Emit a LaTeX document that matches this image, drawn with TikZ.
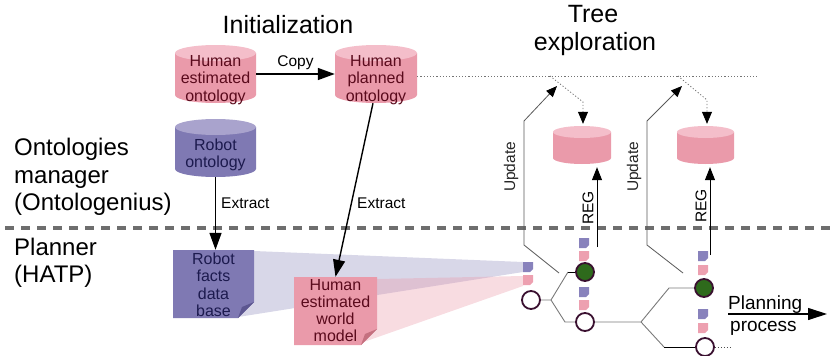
\documentclass[tikz,border=0pt]{standalone}
\usepackage{fontspec}
\setmainfont{Liberation Sans}
\usetikzlibrary{arrows.meta}
\definecolor{pinkbody}{HTML}{EA9AAA}
\definecolor{pinktop}{HTML}{F4BECA}
\definecolor{pinkflap}{HTML}{C4707F}
\definecolor{purpbody}{HTML}{7F79B3}
\definecolor{purptop}{HTML}{A9A3CD}
\definecolor{purpflap}{HTML}{5C5690}
\definecolor{pinktxt}{HTML}{5A0A1C}
\definecolor{purptxt}{HTML}{1C1A4E}
\definecolor{greennode}{HTML}{2E6A1C}
\definecolor{circborder}{HTML}{3A1030}
\definecolor{sqpurp}{HTML}{8882BC}
\definecolor{sqpink}{HTML}{EDA0B0}
\definecolor{sepgray}{HTML}{6E6E6E}
\definecolor{linegray}{HTML}{7A7A7A}

\newcommand\dbcyl[8]{%
  \fill[#6] ({#2-#4/2},{#3-#5/2+#8}) -- ({#2-#4/2},{#3+#5/2-#8})
     arc[start angle=180,end angle=0,x radius={#4/2},y radius=#8]
     -- ({#2+#4/2},{#3-#5/2+#8}) -- cycle;
  \fill[#7] (#2,{#3-#5/2+#8}) ellipse[x radius={#4/2},y radius=#8];
  \node[inner sep=0pt,minimum width=#4,minimum height=#5] (#1) at (#2,#3) {};
}
\newcommand\docnote[7]{%
  \fill[#6] (#2,#3) -- (#4,#3) -- (#4,{#5-16}) -- ({#4-16},#5) -- (#2,#5) -- cycle;
  \fill[#7] (#4,{#5-16}) -- ({#4-16},#5) -- ({#4-12},{#5-11}) -- cycle;
  \node[inner sep=0pt,minimum width={#4-#2},minimum height={#5-#3}] (#1) at ({(#2+#4)/2},{(#3+#5)/2}) {};
}
\newcommand\smallnote[4]{%
  \fill[#4] ({#2-5},{#3-5}) -- ({#2+5},{#3-5}) -- ({#2+5},{#3+2}) -- ({#2+2},{#3+5}) -- ({#2-5},{#3+5}) -- cycle;
  \coordinate (#1) at (#2,#3);
}

\begin{document}
\begin{tikzpicture}[x=1pt,y=-1pt,
  title/.style={font=\fontsize{25}{27}\selectfont, inner sep=0pt},
  side/.style={font=\fontsize{24}{27}\selectfont, inner sep=0pt, anchor=base west},
  boxtext/.style={align=center, inner sep=0pt, font=\fontsize{16}{17.5}\selectfont},
  lbl/.style={font=\fontsize{15.5}{17}\selectfont, inner sep=0pt},
  bigarrow/.style={-{Triangle[length=17pt,width=12pt]}, line width=1.4pt},
  regarrow/.style={-{Triangle[length=13pt,width=10pt]}, line width=1pt},
  updarrow/.style={draw=black!65, line width=0.8pt, -{Triangle[length=11pt,width=9pt,color=black]}},
  dotarrow/.style={draw=black!55, line width=0.8pt, dash pattern=on 1.2pt off 2pt, -{Triangle[length=12pt,width=10pt,color=black]}},
  treeline/.style={draw=linegray, line width=0.9pt},
  tnode/.style={circle, minimum size=18pt, inner sep=0pt, draw=circborder, line width=1.8pt, fill=white},
  gnode/.style={tnode, fill=greennode}
]
\useasboundingbox (0,0) rectangle (831,356);

% separator
\draw[sepgray, line width=4pt, dash pattern=on 9pt off 7pt] (5,228) -- (831,228);

% titles
\node[title, anchor=base] (init) at (288,33) {Initialization};
\node[title, anchor=base] (tree) at (593,23) {Tree};
\node[title, anchor=base] (expl) at (595,50) {exploration};

% side labels
\node[side] (s1) at (14,155) {Ontologies};
\node[side] (s2) at (14,183) {manager};
\node[side] (s3) at (14,210) {(Ontologenius)};
\node[side] (s4) at (14,255) {Planner};
\node[side] (s5) at (14,282) {(HATP)};

% shade bands
\fill[purpbody, opacity=0.3] (254,251) -- (523,262) -- (523,272) -- (238,317) -- cycle;
\fill[pinkbody, opacity=0.35] (377,279) -- (523,276) -- (523,286) -- (358,344) -- cycle;

% cylinders
\dbcyl{heo}{215.5}{74}{81}{58}{pinkbody}{pinktop}{8}
\node[boxtext, text=pinktxt] (heot) at (215.5,80) {Human\\estimated\\ontology};
\dbcyl{hpo}{376}{74}{82}{58}{pinkbody}{pinktop}{8}
\node[boxtext, text=pinktxt] (hpot) at (376,80) {Human\\planned\\ontology};
\dbcyl{ro}{215.5}{148}{81}{58}{purpbody}{purptop}{8}
\node[boxtext, text=purptxt] (rot) at (215.5,155) {Robot\\ontology};
\dbcyl{cy1}{582}{145}{58}{38}{pinkbody}{pinktop}{6}
\dbcyl{cy2}{705.5}{145}{57}{38}{pinkbody}{pinktop}{6}

% documents
\docnote{rfdb}{173}{250}{254}{318}{purpbody}{purpflap}
\node[boxtext, text=purptxt] (rfdbt) at (213.5,285) {Robot\\facts\\data\\base};
\docnote{hewm}{294}{277}{377}{345}{pinkbody}{pinkflap}
\node[boxtext, text=pinktxt, font=\fontsize{16}{17}\selectfont] (hewmt) at (335.5,311) {Human\\estimated\\world\\model};

% main arrows
\draw[bigarrow] (heo.east) -- (hpo.west) node[lbl, midway, above=4pt] (copy) {Copy};
\draw[bigarrow] (ro.south) -- (ro.south |- rfdb.north);
\node[lbl, anchor=base west] (ex1) at (221,208) {Extract};
\draw[bigarrow] ([xshift=-3pt]hpo.south) -- (hewm.north);
\node[lbl, anchor=base west] (ex2) at (357,208) {Extract};

% dotted line
\coordinate (dotend) at (757,76);
\draw[black!55, line width=0.8pt, dash pattern=on 1.2pt off 2pt] (dotend -| hpo.east) -- (dotend);

% small notes
\smallnote{n0p}{528}{267}{sqpurp}
\smallnote{n0k}{528}{280}{sqpink}
\smallnote{n1p}{584}{243}{sqpurp}
\smallnote{n1k}{584}{256}{sqpink}
\smallnote{n2p}{584}{292}{sqpurp}
\smallnote{n2k}{584}{305}{sqpink}
\smallnote{n3p}{703}{256}{sqpurp}
\smallnote{n3k}{703}{270}{sqpink}
\smallnote{n4p}{703}{314}{sqpurp}
\smallnote{n4k}{703}{328}{sqpink}

% tree
\node[tnode] (r0) at (531,300) {};
\node[gnode] (g1) at (585,272) {};
\node[tnode] (c1) at (585,322) {};
\node[gnode] (g2) at (704,288) {};
\node[tnode] (c2) at (705,347) {};
\coordinate (b1) at (551,300);
\coordinate (b1u) at (568,272);
\coordinate (b1d) at (565,322);
\coordinate (b2) at (641,322);
\coordinate (b2u) at (669,288);
\coordinate (b2d) at (664,347);
\draw[treeline] (r0) -- (b1) -- (b1u);
\draw[black, line width=0.9pt] (b1u) -- (g1);
\draw[treeline] (b1) -- (b1d) -- (c1);
\draw[treeline] (c1) -- (b2) -- (b2u) -- (g2);
\draw[treeline] (b2) -- (b2d);
\draw[black, line width=0.9pt] (b2d) -- (c2);
\draw[black!70, line width=0.9pt, dash pattern=on 1pt off 2pt] (c2.east) -- ++(16,0);

% update arrows
\coordinate (u1a) at (559,273);
\coordinate (u1b) at (524,245);
\coordinate (u1c) at (524,121);
\coordinate (u1d) at (557,86);
\draw[updarrow] (u1a) -- (u1b) -- (u1c) -- (u1d);
\node[lbl, rotate=90, text=black!85] (up1) at (511,167) {Update};
\coordinate (u2a) at (683,273);
\coordinate (u2b) at (647,245);
\coordinate (u2c) at (647,121);
\coordinate (u2d) at (682,86);
\draw[updarrow] (u2a) -- (u2b) -- (u2c) -- (u2d);
\node[lbl, rotate=90, text=black!85] (up2) at (634,167) {Update};

% dotted arrows into cylinders
\coordinate (d1a) at (550,76);
\coordinate (d1b) at (583,102);
\draw[dotarrow, shorten >=2pt] (d1a) -- (d1b) -- (d1b |- cy1.north);
\coordinate (d2a) at (678,76);
\coordinate (d2b) at (707,100);
\draw[dotarrow, shorten >=2pt] (d2a) -- (d2b) -- (d2b |- cy2.north);

% REG arrows
\coordinate (reg1) at (597,247);
\draw[regarrow, shorten >=3pt] (reg1) -- (reg1 |- cy1.south);
\node[lbl, rotate=90] (regl1) at (588,208) {REG};
\coordinate (reg2) at (710,255);
\draw[regarrow, shorten >=3pt] (reg2) -- (reg2 |- cy2.south);
\node[lbl, rotate=90] (regl2) at (701,206) {REG};

% planning process
\coordinate (pp1) at (728,314);
\coordinate (pp2) at (827,314);
\draw[line width=1.1pt, -{Triangle[length=19pt,width=12pt]}] (pp1) -- (pp2);
\node[font=\fontsize{19}{21}\selectfont, inner sep=0pt, anchor=base west] (plan) at (728,309) {Planning};
\node[font=\fontsize{19}{21}\selectfont, inner sep=0pt, anchor=base west] (proc) at (730,331) {process};
\end{tikzpicture}
\end{document}
